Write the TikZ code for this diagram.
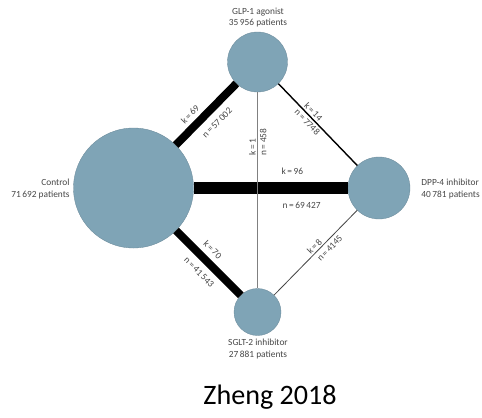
\documentclass[tikz,border=0pt]{standalone}
\usepackage{fontspec}
\setmainfont{Carlito}
\usetikzlibrary{positioning}
\definecolor{nodeblue}{RGB}{127,164,182}
\definecolor{txtgray}{RGB}{70,70,70}
\tikzstyle{circ}=[circle,fill=nodeblue,draw=nodeblue!85!black,line width=0.3pt,inner sep=0pt]
\tikzstyle{lab}=[font=\fontsize{8}{9.4}\selectfont,text=txtgray,inner sep=1pt]
\tikzstyle{elab}=[lab,sloped,inner sep=0.5pt]
\begin{document}
\begin{tikzpicture}[x=0.03cm,y=-0.03cm]
\useasboundingbox (0,0) rectangle (482,417);
\node[circ,minimum size=3.6cm] (C) at (133.5,188) {};
\node[circ,minimum size=1.8cm] (G) at (257.5,62) {};
\node[circ,minimum size=1.86cm] (D) at (379,188) {};
\node[circ,minimum size=1.41cm] (S) at (257.5,312) {};
\node[lab,align=right,anchor=east] (Ct) at (71,189) {Control\\71\,692 patients};
\node[lab,align=center] (Gt) at (258,18) {GLP-1 agonist\\35\,956 patients};
\node[lab,align=left,anchor=west] (Dt) at (420,189) {DPP-4 inhibitor\\40\,781 patients};
\node[lab,align=center] (St) at (258,349) {SGLT-2 inhibitor\\27\,881 patients};
\path
(C) edge[line width=9.4pt] node[elab,pos=0.64,above=6pt]{k\,=\,96}
  node[elab,pos=0.70,below=6.8pt]{n\,=\,69\,427} (D)
(C) edge[line width=6.8pt] node[elab,pos=0.37,above=3pt]{k\,=\,69}
  node[elab,pos=0.52,below=5.3pt]{n\,=\,57\,002} (G)
(C) edge[line width=6.8pt] node[elab,pos=0.43,above=4pt]{k\,=\,70}
  node[elab,pos=0.50,below=4.7pt]{n\,=\,41\,543} (S)
(G) edge[line width=1.2pt] node[elab,pos=0.39,above=1.2pt]{k\,=\,14}
  node[elab,pos=0.42,below=1.2pt]{n\,=\,7748} (D)
%(G) to (S) drawn upwards so the text reads bottom to top
(S) edge[line width=0.6pt,draw=gray] node[elab,pos=0.72,above=0.8pt]{k\,=\,1}
  node[elab,pos=0.745,below=1.2pt]{n\,=\,458} (G)
(S) edge[line width=0.7pt,draw=txtgray] node[elab,pos=0.53,above=0.8pt]{k\,=\,8}
  node[elab,pos=0.61,below=2.6pt]{n\,=\,4145} (D);
\node[font=\fontsize{24}{28}\selectfont] (Z) at (270,397) {Zheng 2018};
\end{tikzpicture}
\end{document}
